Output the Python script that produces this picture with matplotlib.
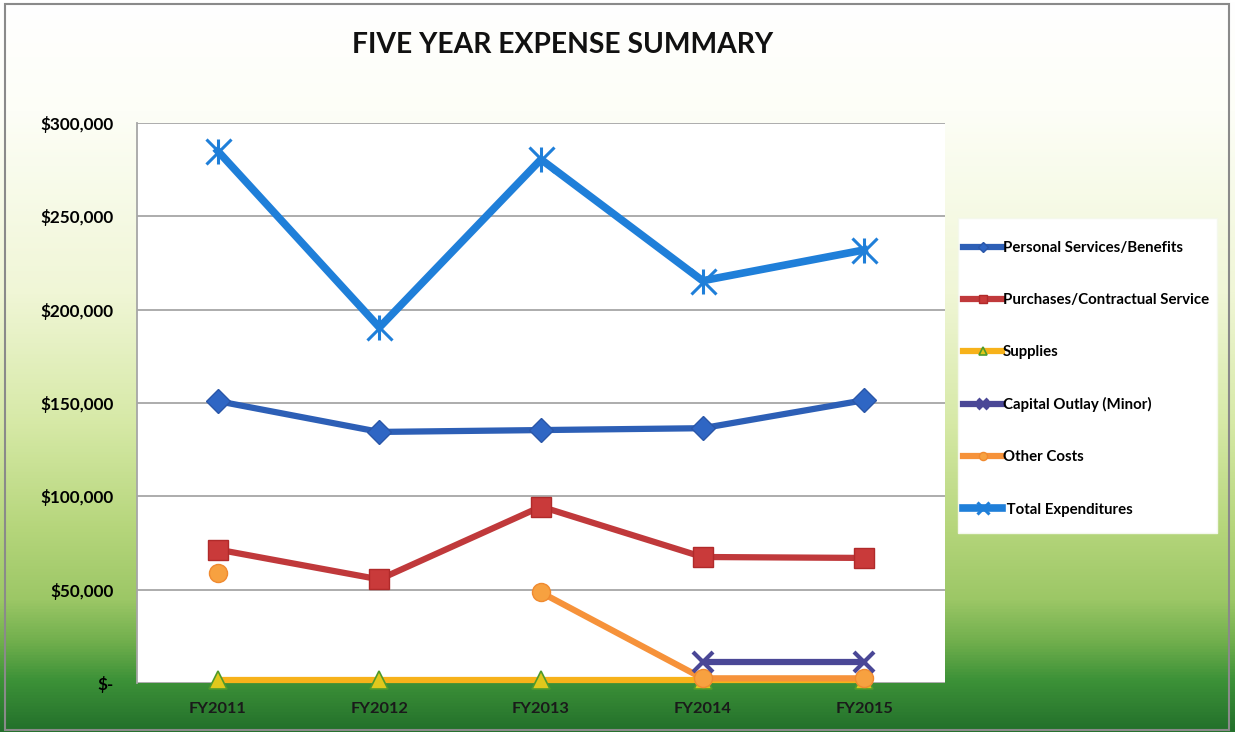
import numpy as np
import matplotlib
matplotlib.use("Agg")
import matplotlib.pyplot as plt
from matplotlib.colors import LinearSegmentedColormap
from matplotlib.patches import Rectangle
from matplotlib.ticker import FuncFormatter

years = ["FY2011", "FY2012", "FY2013", "FY2014", "FY2015"]
personal = [151000, 134500, 135500, 136500, 151500]
purchases = [71500, 55500, 94500, 67500, 67000]
supplies = [1800, 1800, 1800, 1800, 1800]
capital = [np.nan, np.nan, np.nan, 11500, 11500]
other = [59000, np.nan, 48500, 2500, 2500]
total = [285000, 190500, 280500, 215500, 232000]
labels = ["Personal Services/Benefits", "Purchases/Contractual Service", "Supplies",
          "Capital Outlay (Minor)", "Other Costs", " Total Expenditures"]
title = "FIVE YEAR EXPENSE SUMMARY"

plt.rcParams['font.family'] = ['Lato', 'DejaVu Sans']

W, H = 1235, 732
fig = plt.figure(figsize=(W / 100, H / 100), dpi=100)

# gradient background
bg = fig.add_axes([0, 0, 1, 1], zorder=-10)
bg.set_axis_off()
stops = [(0.0, "#ffffff"), (0.15, "#fdfef7"), (0.40, "#f0f6d6"), (0.58, "#d6e9a6"),
         (0.72, "#b6d67c"), (0.82, "#9cc766"), (0.88, "#6fae4c"), (0.93, "#3d9238"),
         (1.0, "#23702b")]
cmap = LinearSegmentedColormap.from_list("bg", stops)
grad = np.linspace(0, 1, 512).reshape(-1, 1)
bg.imshow(grad, aspect="auto", cmap=cmap, extent=[0, 1, 1, 0])
bg.set_xlim(0, 1)
bg.set_ylim(1, 0)
fig.patches.append(Rectangle((5 / W, 2 / H), 1224 / W, 726 / H, transform=fig.transFigure,
                             fill=False, edgecolor="#8a8a8a", linewidth=1.5, zorder=5))
# legend box
fig.patches.append(Rectangle((958 / W, 1 - 533 / H), 259 / W, 315 / H, transform=fig.transFigure,
                             facecolor="white", edgecolor="#f4f8ec", linewidth=1, zorder=1))

ax = fig.add_axes([137 / W, 1 - 683 / H, 808 / W, 560 / H])
ax.set_facecolor("white")
x = np.arange(len(years))

lw = 4.5
ax.plot(x, supplies, color="#f7b21a", lw=lw, marker="^", ms=13, mfc="#e0c81c",
        mec="#4f9a2c", mew=1.2, label=labels[2], clip_on=False, zorder=3)
ax.plot(x, other, color="#f6923a", lw=lw, marker="o", ms=13, mfc="#f7a140",
        mec="#f08a30", label=labels[4], clip_on=False, zorder=4)
ax.plot(x, capital, color="#4a4796", lw=lw, marker="x", ms=15, mew=3,
        label=labels[3], clip_on=False, zorder=4)
ax.plot(x, purchases, color="#c0393b", lw=lw, marker="s", ms=14, mfc="#c93a3a",
        mec="#b02a2a", label=labels[1], clip_on=False, zorder=5)
ax.plot(x, personal, color="#2d5fb6", lw=lw, marker="D", ms=12, mfc="#2f66c4",
        mec="#2a56a8", label=labels[0], clip_on=False, zorder=5)
ax.plot(x, total, color="#1f7fd9", lw=lw + 1, marker="x", ms=18, mew=2.2,
        label=labels[5], clip_on=False, zorder=6)
ax.plot(x, total, ls="none", color="#1f7fd9", marker="|", ms=18, mew=2.2,
        clip_on=False, zorder=6)

ax.set_xlim(-0.5, 4.5)
ax.set_ylim(0, 300000)
ax.set_yticks(np.arange(0, 300001, 50000))
ax.yaxis.set_major_formatter(FuncFormatter(lambda v, p: "$-" if v == 0 else f"${v:,.0f}"))
ax.set_xticks(x)
ax.set_xticklabels(years)
ax.grid(axis="y", color="#a6a6a6", lw=1.3)
ax.set_axisbelow(True)
for s in ["top", "right", "bottom"]:
    ax.spines[s].set_visible(False)
ax.spines["left"].set_color("#a6a6a6")
ax.spines["left"].set_linewidth(1.3)
ax.tick_params(axis="y", length=0, pad=17, labelsize=12.3, colors="black")
ax.tick_params(axis="x", length=0, pad=14, labelsize=11.8, colors="#1a1a1a")
for t in ax.get_yticklabels() + ax.get_xticklabels():
    t.set_fontweight("bold")

fig.text(563 / W, 1 - 45 / H, title, ha="center", va="center", fontsize=20.3,
         fontweight="bold", color="#111111")

h, l = ax.get_legend_handles_labels()
hmap = dict(zip(l, h))
leg = fig.legend([hmap[n] for n in labels], labels, loc="upper left",
                 bbox_to_anchor=(963 / W, 1 - 241 / H), bbox_transform=fig.transFigure,
                 frameon=False, prop={"weight": "bold", "size": 10.8}, labelspacing=2.54,
                 handlelength=2.6, handletextpad=0.05, borderpad=0,
                 borderaxespad=0, markerscale=0.45)
leg.set_zorder(2)

fig.savefig("out.png", dpi=100)
